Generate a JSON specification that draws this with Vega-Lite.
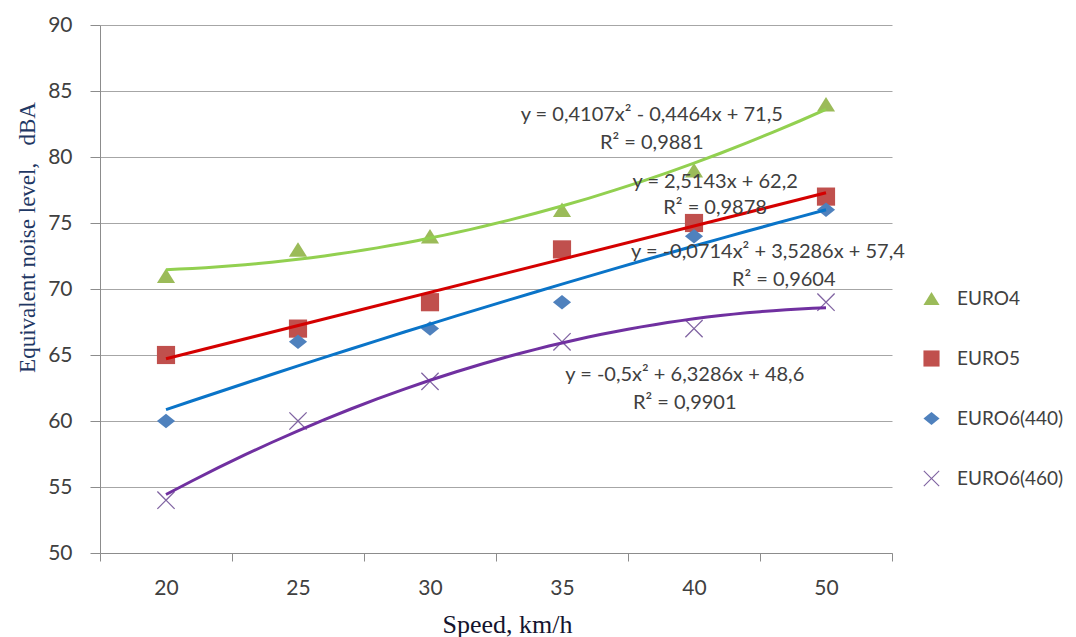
{
  "$schema": "https://vega.github.io/schema/vega-lite/v6.json",
  "autosize": {"type": "none"},
  "width": 792,
  "height": 528,
  "padding": {"left": 100, "top": 25, "right": 184, "bottom": 84},
  "background": "white",
  "config": {
    "view": {"stroke": null},
    "font": "Lato",
    "text": {"font": "Lato", "fontSize": 20, "color": "#404040", "align": "center", "baseline": "middle"}
  },
  "datasets": {
    "noise": [
      {"x": 1, "speed": "20", "series": "EURO4", "y": 71},
      {"x": 2, "speed": "25", "series": "EURO4", "y": 73},
      {"x": 3, "speed": "30", "series": "EURO4", "y": 74},
      {"x": 4, "speed": "35", "series": "EURO4", "y": 76},
      {"x": 5, "speed": "40", "series": "EURO4", "y": 79},
      {"x": 6, "speed": "50", "series": "EURO4", "y": 84},
      {"x": 1, "speed": "20", "series": "EURO5", "y": 65},
      {"x": 2, "speed": "25", "series": "EURO5", "y": 67},
      {"x": 3, "speed": "30", "series": "EURO5", "y": 69},
      {"x": 4, "speed": "35", "series": "EURO5", "y": 73},
      {"x": 5, "speed": "40", "series": "EURO5", "y": 75},
      {"x": 6, "speed": "50", "series": "EURO5", "y": 77},
      {"x": 1, "speed": "20", "series": "EURO6(440)", "y": 60},
      {"x": 2, "speed": "25", "series": "EURO6(440)", "y": 66},
      {"x": 3, "speed": "30", "series": "EURO6(440)", "y": 67},
      {"x": 4, "speed": "35", "series": "EURO6(440)", "y": 69},
      {"x": 5, "speed": "40", "series": "EURO6(440)", "y": 74},
      {"x": 6, "speed": "50", "series": "EURO6(440)", "y": 76},
      {"x": 1, "speed": "20", "series": "EURO6(460)", "y": 54},
      {"x": 2, "speed": "25", "series": "EURO6(460)", "y": 60},
      {"x": 3, "speed": "30", "series": "EURO6(460)", "y": 63},
      {"x": 4, "speed": "35", "series": "EURO6(460)", "y": 66},
      {"x": 5, "speed": "40", "series": "EURO6(460)", "y": 67},
      {"x": 6, "speed": "50", "series": "EURO6(460)", "y": 69}
    ],
    "equations": [
      {"series": "EURO4", "eq": "y = 0,4107x² - 0,4464x + 71,5", "r2": "R² = 0,9881"},
      {"series": "EURO5", "eq": "y = 2,5143x + 62,2", "r2": "R² = 0,9878"},
      {"series": "EURO6(440)", "eq": "y = -0,0714x² + 3,5286x + 57,4", "r2": "R² = 0,9604"},
      {"series": "EURO6(460)", "eq": "y = -0,5x² + 6,3286x + 48,6", "r2": "R² = 0,9901"}
    ]
  },
  "layer": [
    {
      "data": {"name": "noise"},
      "mark": {"type": "point", "filled": true, "opacity": 1, "size": 330, "strokeWidth": 0},
      "encoding": {
        "x": {
          "field": "x", "type": "quantitative",
          "scale": {"domain": [0.5, 6.5], "nice": false, "zero": false},
          "axis": {
            "values": [0.5, 1.5, 2.5, 3.5, 4.5, 5.5, 6.5],
            "labelExpr": "datum.value < 6 ? ['20','25','30','35','40','50'][floor(datum.value)] : ''",
            "labelOffset": 66,
            "labelFlush": false,
            "labelOverlap": false,
            "labelFont": "Lato",
            "labelFontSize": 21,
            "labelColor": "#404040",
            "labelPadding": 16,
            "tickSize": 8,
            "tickColor": "#8c8c8c",
            "domainColor": "#8c8c8c",
            "grid": false,
            "title": "Speed, km/h",
            "titleFont": "Liberation Serif",
            "titleFontSize": 26,
            "titleFontWeight": "normal",
            "titleColor": "#14142e",
            "titleX": 407,
            "titleY": 79,
            "titleBaseline": "alphabetic",
            "titleAlign": "center"
          }
        },
        "y": {
          "field": "y", "type": "quantitative",
          "scale": {"domain": [50, 90], "nice": false, "zero": false},
          "axis": {
            "values": [50, 55, 60, 65, 70, 75, 80, 85, 90],
            "labelFont": "Lato",
            "labelFontSize": 21,
            "labelColor": "#404040",
            "labelPadding": 18,
            "tickSize": 10,
            "tickColor": "#8c8c8c",
            "domainColor": "#8c8c8c",
            "grid": true,
            "gridColor": "#a6a6a6",
            "title": "Equivalent noise level,\u00a0\u00a0 dBA",
            "titleFont": "Liberation Serif",
            "titleFontSize": 23,
            "titleFontWeight": "normal",
            "titleColor": "#1f3864",
            "titleX": -66,
            "titleY": 212,
            "titleAngle": -90,
            "titleAlign": "center",
            "titleBaseline": "alphabetic"
          }
        },
        "color": {
          "field": "series", "type": "nominal",
          "scale": {
            "domain": ["EURO4", "EURO5", "EURO6(440)", "EURO6(460)"],
            "range": ["#9bbb59", "#c0504d", "#4f81bd", "#8064a2"]
          },
          "legend": {
            "orient": "none",
            "legendX": 822,
            "legendY": 264,
            "title": null,
            "labelFont": "Lato",
            "labelFontSize": 19,
            "labelColor": "#404040",
            "labelOffset": 16,
            "rowPadding": 40,
            "symbolSize": 260,
            "symbolOpacity": 1,
            "symbolStrokeWidth": 0
          }
        },
        "shape": {
          "field": "series", "type": "nominal",
          "scale": {
            "domain": ["EURO4", "EURO5", "EURO6(440)", "EURO6(460)"],
            "range": [
              "M0,-0.8L1,0.8L-1,0.8Z",
              "M-1,-1L1,-1L1,1L-1,1Z",
              "M0,-0.8L1,0L0,0.8L-1,0Z",
              "M-1,-0.9L-0.9,-1L0,-0.1L0.9,-1L1,-0.9L0.1,0L1,0.9L0.9,1L0,0.1L-0.9,1L-1,0.9L-0.1,0Z"
            ]
          },
          "legend": {
            "orient": "none",
            "legendX": 822,
            "legendY": 264,
            "title": null,
            "labelFont": "Lato",
            "labelFontSize": 19,
            "labelColor": "#404040",
            "labelOffset": 16,
            "rowPadding": 40,
            "symbolSize": 260,
            "symbolOpacity": 1,
            "symbolStrokeWidth": 0
          }
        }
      }
    },
    {
      "data": {"name": "noise"},
      "transform": [
        {"filter": "datum.series !== 'EURO5'"},
        {"regression": "y", "on": "x", "groupby": ["series"], "method": "poly", "order": 2}
      ],
      "mark": {"type": "line", "strokeWidth": 3},
      "encoding": {
        "x": {"field": "x", "type": "quantitative"},
        "y": {"field": "y", "type": "quantitative"},
        "stroke": {
          "field": "series", "type": "nominal",
          "scale": {
            "domain": ["EURO4", "EURO6(440)", "EURO6(460)"],
            "range": ["#92d050", "#0a74c8", "#7030a0"]
          },
          "legend": null
        }
      }
    },
    {
      "data": {"name": "noise"},
      "transform": [
        {"filter": "datum.series === 'EURO5'"},
        {"regression": "y", "on": "x", "method": "linear"}
      ],
      "mark": {"type": "line", "strokeWidth": 3, "color": "#d40000"},
      "encoding": {
        "x": {"field": "x", "type": "quantitative"},
        "y": {"field": "y", "type": "quantitative"}
      }
    },
    {
      "data": {"name": "equations"},
      "transform": [{"filter": "datum.series === 'EURO4'"}],
      "mark": {"type": "text"},
      "encoding": {"x": {"datum": 4.68}, "y": {"datum": 83.18}, "text": {"field": "eq"}}
    },
    {
      "data": {"name": "equations"},
      "transform": [{"filter": "datum.series === 'EURO4'"}],
      "mark": {"type": "text"},
      "encoding": {"x": {"datum": 4.68}, "y": {"datum": 81.06}, "text": {"field": "r2"}}
    },
    {
      "data": {"name": "equations"},
      "transform": [{"filter": "datum.series === 'EURO5'"}],
      "mark": {"type": "text"},
      "encoding": {"x": {"datum": 5.16}, "y": {"datum": 78.11}, "text": {"field": "eq"}}
    },
    {
      "data": {"name": "equations"},
      "transform": [{"filter": "datum.series === 'EURO5'"}],
      "mark": {"type": "text"},
      "encoding": {"x": {"datum": 5.16}, "y": {"datum": 76.14}, "text": {"field": "r2"}}
    },
    {
      "data": {"name": "equations"},
      "transform": [{"filter": "datum.series === 'EURO6(440)'"}],
      "mark": {"type": "text"},
      "encoding": {"x": {"datum": 5.56}, "y": {"datum": 72.8}, "text": {"field": "eq"}}
    },
    {
      "data": {"name": "equations"},
      "transform": [{"filter": "datum.series === 'EURO6(440)'"}],
      "mark": {"type": "text"},
      "encoding": {"x": {"datum": 5.68}, "y": {"datum": 70.68}, "text": {"field": "r2"}}
    },
    {
      "data": {"name": "equations"},
      "transform": [{"filter": "datum.series === 'EURO6(460)'"}],
      "mark": {"type": "text"},
      "encoding": {"x": {"datum": 4.93}, "y": {"datum": 63.48}, "text": {"field": "eq"}}
    },
    {
      "data": {"name": "equations"},
      "transform": [{"filter": "datum.series === 'EURO6(460)'"}],
      "mark": {"type": "text"},
      "encoding": {"x": {"datum": 4.93}, "y": {"datum": 61.36}, "text": {"field": "r2"}}
    }
  ]
}
